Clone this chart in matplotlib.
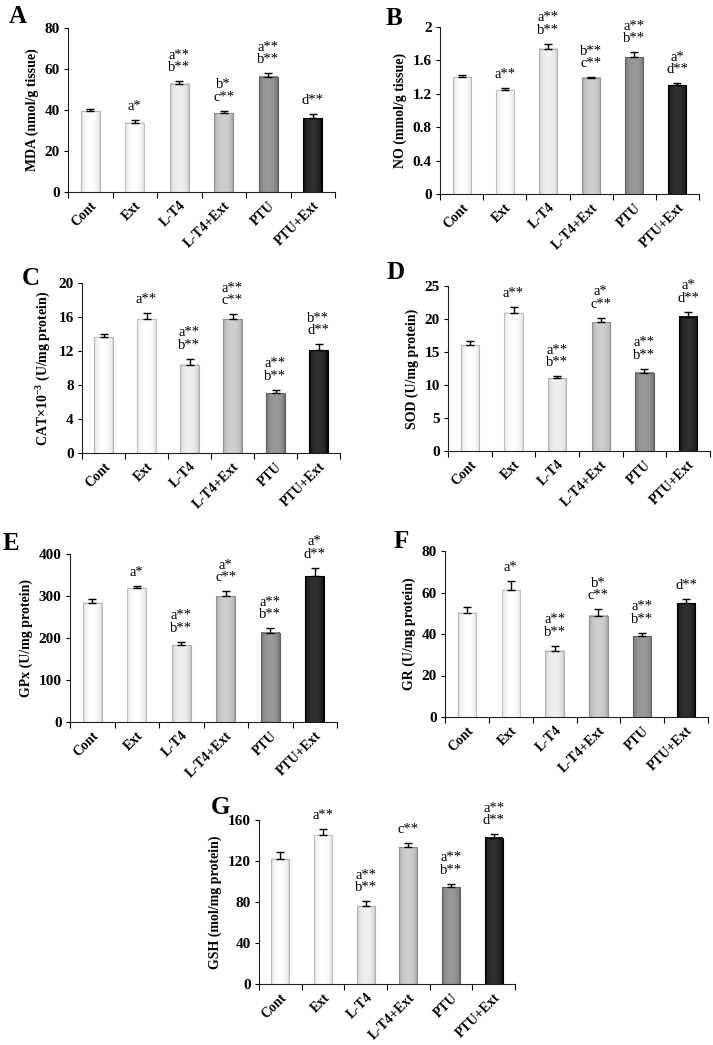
import numpy as np
import matplotlib
matplotlib.use('Agg')
import matplotlib.pyplot as plt
from matplotlib.colors import to_rgb

plt.rcParams['font.family'] = ['Liberation Serif', 'DejaVu Serif']
plt.rcParams['mathtext.fontset'] = 'custom'
plt.rcParams['mathtext.rm'] = 'Liberation Serif:bold'
plt.rcParams['mathtext.bf'] = 'Liberation Serif:bold'
plt.rcParams['mathtext.it'] = 'Liberation Serif:bold:italic'

groups = ['Cont', 'Ext', 'L-T4', 'L-T4+Ext', 'PTU', 'PTU+Ext']

# A - MDA
mda = [39.5, 33.8, 52.7, 38.4, 56.3, 35.9]
mda_err = [0.8, 1.3, 1.3, 1.3, 1.7, 2.0]
mda_sig = ['', 'a*', 'a**\nb**', 'b*\nc**', 'a**\nb**', 'd**']

# B - NO
no = [1.40, 1.245, 1.74, 1.39, 1.64, 1.30]
no_err = [0.03, 0.025, 0.06, 0.01, 0.06, 0.03]
no_sig = ['', 'a**', 'a**\nb**', 'b**\nc**', 'a**\nb**', 'a*\nd**']

# C - CAT
cat = [13.6, 15.75, 10.4, 15.75, 7.05, 12.1]
cat_err = [0.4, 0.7, 0.7, 0.6, 0.4, 0.7]
cat_sig = ['', 'a**', 'a**\nb**', 'a**\nc**', 'a**\nb**', 'b**\nd**']

# D - SOD
sod = [16.0, 20.95, 11.0, 19.5, 11.85, 20.35]
sod_err = [0.65, 0.9, 0.3, 0.7, 0.65, 0.75]
sod_sig = ['', 'a**', 'a**\nb**', 'a*\nc**', 'a**\nb**', 'a*\nd**']

# E - GPx
gpx = [284, 320, 183, 300, 212, 347]
gpx_err = [9, 5, 8, 12, 11, 20]
gpx_sig = ['', 'a*', 'a**\nb**', 'a*\nc**', 'a**\nb**', 'a*\nd**']

# F - GR
gr = [50.2, 61.4, 32.0, 48.8, 39.0, 54.9]
gr_err = [3.0, 4.2, 2.4, 3.2, 1.6, 1.9]
gr_sig = ['', 'a*', 'a**\nb**', 'b*\nc**', 'a**\nb**', 'd**']

# G - GSH
gsh = [122, 145, 76, 133.5, 94.5, 142.5]
gsh_err = [6.5, 6.5, 5.0, 3.8, 3.2, 3.8]
gsh_sig = ['', 'a**', 'a**\nb**', 'c**', 'a**\nb**', 'a**\nd**']

# bar shading: colour at the sides, colour in the middle
side_cols = ['#d4d4d4', '#d8d8d8', '#c4c4c4', '#a0a0a0', '#686868', '#000000']
mid_cols = ['#ffffff', '#ffffff', '#f0f0f0', '#d0d0d0', '#9a9a9a', '#303030']
line_cols = ['#b8b8b8', '#c0c0c0', '#b0b0b0', '#909090', '#606060', '#000000']

W, H = 713, 1045
fig = plt.figure(figsize=(W / 100, H / 100), dpi=100)
fig.patch.set_facecolor('white')


def panel(box, letter, lpos, vals, errs, sig, ytop, ystep, ylabel, fmt=None):
    x0, y0, x1, y1 = box
    ax = fig.add_axes([x0 / W, 1 - y1 / H, (x1 - x0) / W, (y1 - y0) / H])
    xs = np.arange(len(groups))
    bw = 0.42
    t = np.linspace(-1, 1, 40)
    wgt = np.sqrt(np.clip(1 - t ** 2, 0, 1))
    for i, (x, v) in enumerate(zip(xs, vals)):
        s = np.array(to_rgb(side_cols[i]))
        m = np.array(to_rgb(mid_cols[i]))
        grad = s[None, :] + (m - s)[None, :] * wgt[:, None]
        ax.imshow(grad[None, :, :], extent=[x - bw / 2, x + bw / 2, 0, v],
                  aspect='auto', interpolation='bilinear', zorder=2)
    ax.bar(xs, vals, width=bw, facecolor='none', edgecolor=line_cols,
           linewidth=0.8, zorder=3)
    ax.errorbar(xs, vals, yerr=[np.zeros(len(errs)), errs], fmt='none',
                ecolor='black', elinewidth=1.0, capsize=3, capthick=1.0, zorder=4)
    for x, v, e, s in zip(xs, vals, errs, sig):
        if s:
            ax.annotate(s, (x, v + e), xytext=(0, 5), textcoords='offset points',
                        ha='center', va='bottom', fontsize=10.5, linespacing=0.95)
    ax.set_xlim(-0.5, len(groups) - 0.5)
    ax.set_ylim(0, ytop)
    ticks = np.arange(0, ytop + ystep / 2, ystep)
    ax.set_yticks(ticks)
    if fmt:
        ax.set_yticklabels([fmt(v) for v in ticks])
    ax.set_xticks(xs)
    ax.set_xticklabels(groups, rotation=45, ha='right', rotation_mode='anchor')
    ax.set_xticks(np.arange(-0.5, len(groups)), minor=True)
    ax.tick_params(axis='x', which='major', length=0, pad=5)
    ax.tick_params(axis='x', which='minor', length=4, width=0.8, direction='out')
    ax.tick_params(axis='y', length=3, width=0.8, direction='out', pad=3)
    for lab in ax.get_xticklabels():
        lab.set_fontweight('bold')
        lab.set_fontsize(10)
    for lab in ax.get_yticklabels():
        lab.set_fontweight('bold')
        lab.set_fontsize(11)
    ax.set_ylabel(ylabel, fontsize=10, fontweight='bold', labelpad=4)
    for sp in ['top', 'right']:
        ax.spines[sp].set_visible(False)
    for sp in ['left', 'bottom']:
        ax.spines[sp].set_linewidth(0.8)
        ax.spines[sp].set_color('#222222')
    fig.text(lpos[0] / W, 1 - lpos[1] / H, letter, fontsize=18,
             fontweight='bold', ha='left', va='top')
    return ax


panel((68, 28, 335, 192), 'A', (9, 5), mda, mda_err, mda_sig, 80, 20,
      'MDA (nmol/g tissue)')
panel((440, 27, 699, 194), 'B', (386, 7), no, no_err, no_sig, 2, 0.4,
      'NO (mmol/g tissue)', fmt=lambda v: '%g' % round(v, 1))
panel((82, 283, 340, 453), 'C', (22, 267), cat, cat_err, cat_sig, 20, 4,
      r'CAT$\times$10$^{-3}$ (U/mg protein)')
panel((448, 286, 710, 451), 'D', (387, 261), sod, sod_err, sod_sig, 25, 5,
      'SOD (U/mg protein)')
panel((70, 554, 337, 722), 'E', (3, 532), gpx, gpx_err, gpx_sig, 400, 100,
      'GPx (U/mg protein)')
panel((445, 551, 708, 717), 'F', (394, 530), gr, gr_err, gr_sig, 80, 20,
      'GR (U/mg protein)')
panel((259, 820, 515, 984), 'G', (211, 796), gsh, gsh_err, gsh_sig, 160, 40,
      'GSH (mol/mg protein)')

fig.savefig('out.png', dpi=100, facecolor='white')
